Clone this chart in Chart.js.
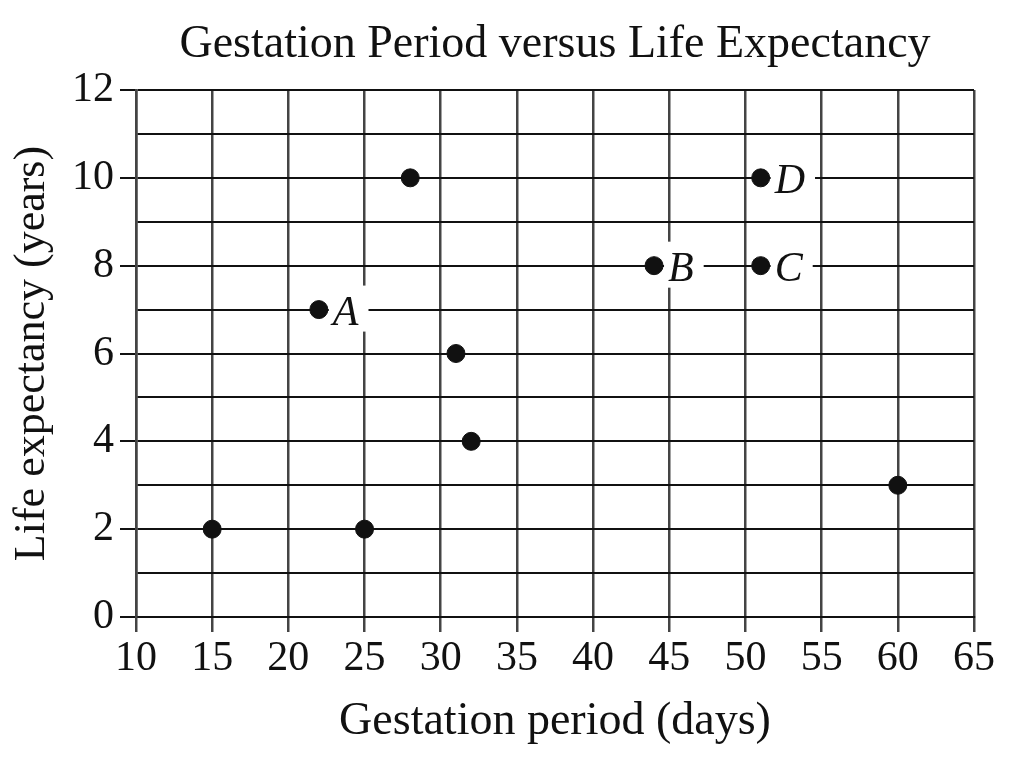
<!DOCTYPE html>
<html>
<head>
<meta charset="utf-8">
<script src="https://cdn.jsdelivr.net/npm/chart.js@4"></script>
<style>
  body { margin: 0; background: #fff; }
  #wrap { width: 1011px; height: 769px; }
</style>
</head>
<body>
<div id="wrap"><canvas id="chart"></canvas></div>
<script>
const gestation = [15, 22, 25, 28, 31, 32, 44, 51, 51, 60];
const lifeExp = [2, 7, 2, 10, 6, 4, 8, 8, 10, 3];
const pointLabels = ['', 'A', '', '', '', '', 'B', 'C', 'D', ''];
const titleText = 'Gestation Period versus Life Expectancy';

const serif = '"Liberation Serif", "Times New Roman", serif';

let points = [];
for (let i = 0; i < gestation.length; i++) {
  points.push({x: gestation[i], y: lifeExp[i]});
}

// title centred over the plot area, letter labels with white boxes
const extras = {
  id: 'extras',
  afterDraw(chart) {
    const ctx = chart.ctx;
    const area = chart.chartArea;
    ctx.save();
    ctx.fillStyle = '#111';
    ctx.font = '46px ' + serif;
    ctx.textAlign = 'center';
    ctx.textBaseline = 'alphabetic';
    ctx.fillText(titleText, (area.left + area.right) / 2, 57);
    ctx.restore();
  },
  afterDatasetsDraw(chart) {
    const ctx = chart.ctx;
    const meta = chart.getDatasetMeta(0);
    ctx.save();
    ctx.font = 'italic 42px ' + serif;
    ctx.textBaseline = 'alphabetic';
    ctx.textAlign = 'left';
    meta.data.forEach((pt, i) => {
      if (!pointLabels[i]) return;
      const w = ctx.measureText(pointLabels[i]).width;
      ctx.fillStyle = '#fff';
      ctx.fillRect(pt.x + 10, pt.y - 24, w + 14, 46);
      ctx.fillStyle = '#111';
      ctx.fillText(pointLabels[i], pt.x + 14, pt.y + 15);
    });
    ctx.restore();
  }
};

new Chart(document.getElementById('chart'), {
  type: 'scatter',
  data: {
    datasets: [{
      data: points,
      backgroundColor: '#111',
      borderColor: '#111',
      pointRadius: 9,
      pointHoverRadius: 9
    }]
  },
  options: {
    responsive: true,
    maintainAspectRatio: false,
    animation: false,
    layout: { padding: { top: 90, right: 37, left: 0, bottom: 0 } },
    plugins: {
      legend: { display: false },
      tooltip: { enabled: false }
    },
    scales: {
      x: {
        type: 'linear',
        min: 10,
        max: 65,
        afterFit: s => { s.height = 152; },
        ticks: {
          stepSize: 5,
          color: '#111',
          padding: 2,
          maxRotation: 0,
          autoSkip: false,
          font: { family: serif, size: 42 }
        },
        grid: {
          color: '#444',
          lineWidth: 2.5,
          tickLength: 15,
          tickColor: '#444'
        },
        border: { color: '#111', width: 2 },
        title: {
          display: true,
          text: 'Gestation period (days)',
          color: '#111',
          font: { family: serif, size: 46 },
          padding: { bottom: 19 }
        }
      },
      y: {
        min: 0,
        max: 12,
        afterFit: s => { s.width = 136; },
        ticks: {
          stepSize: 1,
          color: '#111',
          padding: 6,
          autoSkip: false,
          font: { family: serif, size: 42 },
          callback: v => (v % 2 === 0 ? v : '')
        },
        grid: {
          color: '#111',
          lineWidth: 2,
          tickLength: 16,
          tickColor: ctx => (ctx.tick && ctx.tick.value % 2 === 0 ? '#111' : 'rgba(0,0,0,0)')
        },
        border: { color: '#444', width: 2.5 },
        title: {
          display: true,
          text: 'Life expectancy (years)',
          color: '#111',
          font: { family: serif, size: 44 },
          padding: { top: 6 }
        }
      }
    }
  },
  plugins: [extras]
});
</script>
</body>
</html>
